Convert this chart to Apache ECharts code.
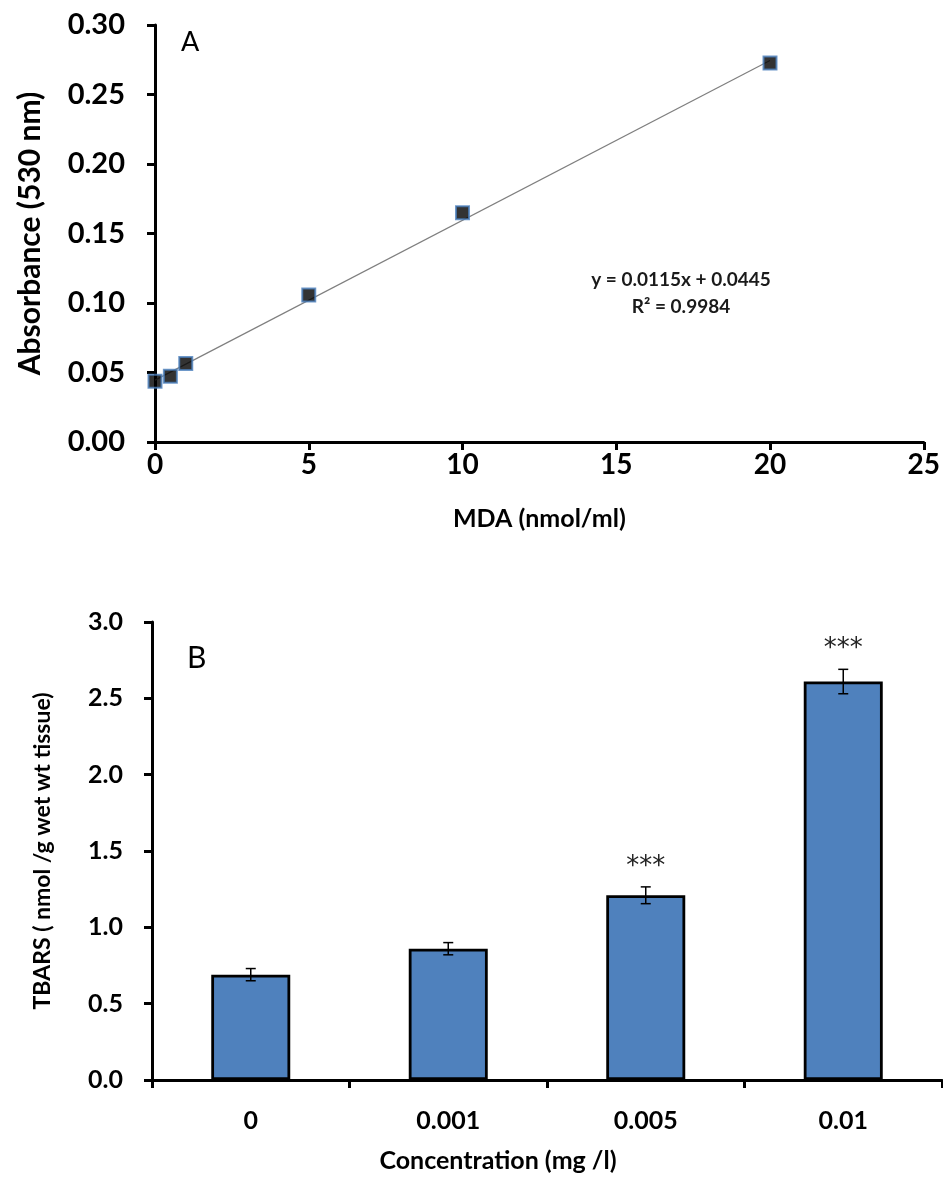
<!DOCTYPE html>
<html>
<head>
<meta charset="utf-8">
<script src="https://cdn.jsdelivr.net/npm/echarts@6/dist/echarts.min.js"></script>
<style>
  html, body { margin: 0; padding: 0; background: #fff; }
  #chart { width: 943px; height: 1180px; }
</style>
</head>
<body>
<div id="chart"></div>
<script>
// Panel A: MDA standard curve
const mdaConc = [0, 0.5, 1, 5, 10, 20];
const absorbance = [0.0437, 0.0473, 0.0565, 0.1057, 0.165, 0.2726];
const fitSlope = 0.0115;
const fitIntercept = 0.0445;
const fitRange = [0, 20];

// Panel B: TBARS by concentration
const concCategories = ['0', '0.001', '0.005', '0.01'];
const tbarsMean = [0.69, 0.86, 1.21, 2.61];
const tbarsErr = [0.04, 0.04, 0.055, 0.08];
const significance = ['', '', '***', '***'];

const FONT = 'Lato';
const chart = echarts.init(document.getElementById('chart'), null, { renderer: 'canvas' });

const fitLine = fitRange.map(x => [x, fitSlope * x + fitIntercept]);

const axisLineStyle = { lineStyle: { color: '#000', width: 3 } };
const tickStyle = { show: true, length: 8, lineStyle: { color: '#000', width: 3 } };

chart.setOption({
  backgroundColor: '#fff',
  animation: false,
  grid: [
    { left: 155, right: 19, top: 25, bottom: 738 },
    { left: 152, right: 1, top: 622, bottom: 100 }
  ],
  xAxis: [
    {
      gridIndex: 0, type: 'value', min: 0, max: 25, interval: 5,
      axisLine: axisLineStyle, axisTick: tickStyle, splitLine: { show: false },
      axisLabel: { color: '#000', fontFamily: FONT, fontWeight: 'bold', fontSize: 28, margin: 9 },
      name: 'MDA (nmol/ml)', nameLocation: 'middle', nameGap: 64,
      nameTextStyle: { color: '#000', fontFamily: FONT, fontWeight: 'bold', fontSize: 25 }
    },
    {
      gridIndex: 1, type: 'category', data: concCategories, boundaryGap: true,
      axisLine: axisLineStyle, axisTick: tickStyle, splitLine: { show: false },
      axisLabel: { color: '#000', fontFamily: FONT, fontWeight: 'bold', fontSize: 25, margin: 28 },
      name: 'Concentration (mg /l)', nameLocation: 'middle', nameGap: 68,
      nameTextStyle: { color: '#000', fontFamily: FONT, fontWeight: 'bold', fontSize: 25, padding: [0, 98, 0, 0] }
    }
  ],
  yAxis: [
    {
      gridIndex: 0, type: 'value', min: 0, max: 0.3, interval: 0.05,
      axisLine: { show: true, lineStyle: { color: '#000', width: 3 } },
      axisTick: tickStyle, splitLine: { show: false },
      axisLabel: { color: '#000', fontFamily: FONT, fontWeight: 'bold', fontSize: 29, margin: 30,
                   formatter: v => v.toFixed(2) },
      name: 'Absorbance (530 nm)', nameLocation: 'middle', nameGap: 110,
      nameTextStyle: { color: '#000', fontFamily: FONT, fontWeight: 'bold', fontSize: 30 }
    },
    {
      gridIndex: 1, type: 'value', min: 0, max: 3, interval: 0.5,
      axisLine: { show: true, lineStyle: { color: '#000', width: 3 } },
      axisTick: tickStyle, splitLine: { show: false },
      axisLabel: { color: '#000', fontFamily: FONT, fontWeight: 'bold', fontSize: 25, margin: 29,
                   formatter: v => v.toFixed(1) },
      name: 'TBARS ( nmol /g wet wt tissue)', nameLocation: 'middle', nameGap: 98,
      nameTextStyle: { color: '#000', fontFamily: FONT, fontWeight: 'bold', fontSize: 23 }
    }
  ],
  graphic: [
    { type: 'text', left: 181, top: 29, style: { text: 'A', font: '27px ' + FONT, fill: '#000' } },
    { type: 'text', left: 187, top: 643, style: { text: 'B', font: '30px ' + FONT, fill: '#000' } },
    { type: 'text', x: 681, y: 266, style: {
        text: 'y = 0.0115x + 0.0445\nR² = 0.9984', font: 'bold 19px ' + FONT, fill: '#1a1a1a',
        align: 'center', verticalAlign: 'top', lineHeight: 27 } }
  ],
  series: [
    {
      type: 'line', xAxisIndex: 0, yAxisIndex: 0, data: fitLine, showSymbol: false,
      lineStyle: { color: '#7f7f7f', width: 1.2 }, z: 2
    },
    {
      type: 'scatter', xAxisIndex: 0, yAxisIndex: 0,
      data: mdaConc.map((x, i) => [x, absorbance[i]]),
      symbol: 'rect', symbolSize: 13,
      itemStyle: { color: '#000', borderColor: '#4a7ebb', borderWidth: 2 }, z: 3
    },
    {
      type: 'bar', xAxisIndex: 1, yAxisIndex: 1, data: tbarsMean, barWidth: '40%',
      itemStyle: { color: '#4f81bd', borderColor: '#000', borderWidth: 2.8 }
    },
    {
      type: 'custom', xAxisIndex: 1, yAxisIndex: 1,
      data: tbarsMean.map((m, i) => [i, m, tbarsErr[i]]),
      z: 5,
      renderItem: (params, api) => {
        const i = api.value(0), m = api.value(1), e = api.value(2);
        const top = api.coord([i, m + e]);
        const bot = api.coord([i, m - e]);
        const cap = 5;
        const ls = { stroke: '#000', lineWidth: 1.5 };
        const children = [
          { type: 'line', shape: { x1: top[0], y1: top[1], x2: bot[0], y2: bot[1] }, style: ls },
          { type: 'line', shape: { x1: top[0] - cap, y1: top[1], x2: top[0] + cap, y2: top[1] }, style: ls },
          { type: 'line', shape: { x1: bot[0] - cap, y1: bot[1], x2: bot[0] + cap, y2: bot[1] }, style: ls }
        ];
        const mark = significance[params.dataIndex];
        if (mark) {
          children.push({
            type: 'text',
            style: { x: top[0], y: top[1] - 20, text: mark,
                     font: '26px "DejaVu Sans"', fill: '#222', align: 'center', verticalAlign: 'middle' }
          });
        }
        return { type: 'group', children };
      }
    }
  ]
});
</script>
</body>
</html>
